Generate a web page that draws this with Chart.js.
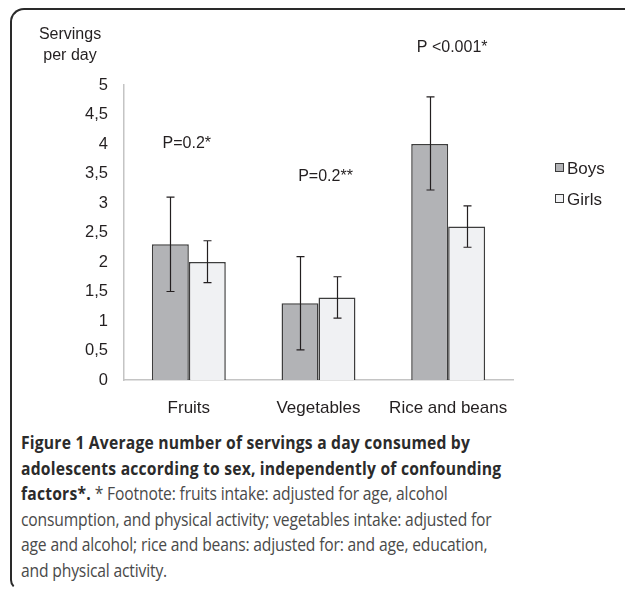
<!DOCTYPE html>
<html>
<head>
<meta charset="utf-8">
<script src="https://cdn.jsdelivr.net/npm/chart.js@4.4.1/dist/chart.umd.min.js"></script>
<style>
  html, body { margin: 0; padding: 0; background: #fff; }
  body { width: 625px; height: 596px; position: relative; overflow: hidden; }
  #frame { position: absolute; left: 10px; top: 8px; width: 640px; height: 582px;
    border-top: 2px solid #2a2a2a; border-left: 2px solid #2a2a2a; border-bottom: 2px solid transparent;
    border-top-left-radius: 14px; border-bottom-left-radius: 10px; box-sizing: border-box; }
  #wrap { position: absolute; left: 0; top: 0; width: 625px; height: 420px; }
  #caption { position: absolute; left: 21px; top: 430px; width: 700px;
    font-family: "Open Sans", sans-serif; font-size: 18px; line-height: 25.6px; color: #4a4a4a; white-space: nowrap;
    letter-spacing: -0.19px; transform: scaleX(0.87); transform-origin: 0 0; }
  #caption b { color: #2b2b2b; font-weight: 700; letter-spacing: 0.24px; }
</style>
</head>
<body>
<div id="frame"></div>
<div id="wrap"><canvas id="c" width="625" height="420"></canvas></div>
<div id="caption"><b>Figure 1 Average number of servings a day consumed by<br>adolescents according to sex, independently of confounding<br>factors*.</b> * Footnote: fruits intake: adjusted for age, alcohol<br>consumption, and physical activity; vegetables intake: adjusted for<br>age and alcohol; rice and beans: adjusted for: and age, education,<br>and physical activity.</div>
<script>
const categories = ["Fruits", "Vegetables", "Rice and beans"];
const seriesNames = ["Boys", "Girls"];
const boys = [2.3, 1.3, 4.0];
const girls = [2.0, 1.4, 2.6];
const boysLow = [1.5, 0.51, 3.22];
const boysHigh = [3.1, 2.09, 4.8];
const girlsLow = [1.65, 1.05, 2.25];
const girlsHigh = [2.36, 1.75, 2.95];
const pLabels = ["P=0.2*", "P=0.2**", "P <0.001*"];
const pLabelY = [4.0, 3.44, 5.63];
const pLabelDx = [-2, 7, 4];
const yTitle = ["Servings", "per day"];

const INK = '#231f20';
const FONT = '"Liberation Sans", Arial, sans-serif';

const errorBars = {
  id: 'errorBars',
  afterDatasetsDraw(chart) {
    const ctx = chart.ctx;
    const y = chart.scales.y;
    const lows = [boysLow, girlsLow], highs = [boysHigh, girlsHigh];
    ctx.save();
    ctx.strokeStyle = INK; ctx.lineWidth = 1.2;
    chart.data.datasets.forEach((ds, di) => {
      const meta = chart.getDatasetMeta(di);
      meta.data.forEach((bar, i) => {
        const x = Math.round(bar.x) + 0.5;
        const yl = y.getPixelForValue(lows[di][i]);
        const yh = y.getPixelForValue(highs[di][i]);
        ctx.beginPath();
        ctx.moveTo(x, yl); ctx.lineTo(x, yh);
        ctx.moveTo(x - 4, yl); ctx.lineTo(x + 4, yl);
        ctx.moveTo(x - 4, yh); ctx.lineTo(x + 4, yh);
        ctx.stroke();
      });
    });
    ctx.restore();
  }
};

const annotations = {
  id: 'annotations',
  afterDraw(chart) {
    const ctx = chart.ctx;
    const xs = chart.scales.x, ys = chart.scales.y;
    ctx.save();
    ctx.fillStyle = INK;
    ctx.font = '16px ' + FONT;
    ctx.textAlign = 'center'; ctx.textBaseline = 'middle';
    pLabels.forEach((t, i) => {
      ctx.fillText(t, xs.getPixelForValue(i) + pLabelDx[i], ys.getPixelForValue(pLabelY[i]));
    });
    ctx.fillText(yTitle[0], 70, 35);
    ctx.fillText(yTitle[1], 70, 56);
    ctx.textAlign = 'left';
    ctx.font = '17px ' + FONT;
    chart.data.datasets.forEach((ds, i) => {
      const cy = 168 + i * 31;
      ctx.fillStyle = ds.backgroundColor;
      ctx.strokeStyle = '#3a3a3a'; ctx.lineWidth = 1;
      ctx.fillRect(555.5, cy - 4.5, 8, 8);
      ctx.strokeRect(555.5, cy - 4.5, 8, 8);
      ctx.fillStyle = INK;
      ctx.fillText(ds.label, 567, cy + 1);
    });
    ctx.restore();
  }
};

new Chart(document.getElementById('c'), {
  type: 'bar',
  data: {
    labels: categories,
    datasets: [
      { label: seriesNames[0], data: boys, backgroundColor: '#b2b3b6', borderColor: '#3d3d3d', borderWidth: 1.5 },
      { label: seriesNames[1], data: girls, backgroundColor: '#f0f1f3', borderColor: '#3d3d3d', borderWidth: 1.5 }
    ]
  },
  options: {
    responsive: false,
    animation: false,
    devicePixelRatio: 1,
    layout: { padding: { left: 0, right: 112, top: 85, bottom: 0 } },
    plugins: { legend: { display: false }, tooltip: { enabled: false } },
    datasets: { bar: { categoryPercentage: 0.57, barPercentage: 1.0 } },
    scales: {
      x: {
        grid: { display: false, drawTicks: false },
        border: { display: true, color: '#c4c4c4', width: 1.5 },
        ticks: { color: INK, font: { family: FONT, size: 17 }, padding: 18, maxRotation: 0 },
        afterFit(s) { s.height = 40; }
      },
      y: {
        min: 0, max: 5,
        grid: { display: false, drawTicks: false },
        border: { display: true, color: '#c4c4c4', width: 1.5 },
        ticks: { stepSize: 0.5, color: INK, font: { family: FONT, size: 16.5 }, padding: 16,
          callback: v => String(v).replace('.', ',') },
        afterFit(s) { s.width = 124; }
      }
    }
  },
  plugins: [errorBars, annotations]
});
</script>
</body>
</html>
